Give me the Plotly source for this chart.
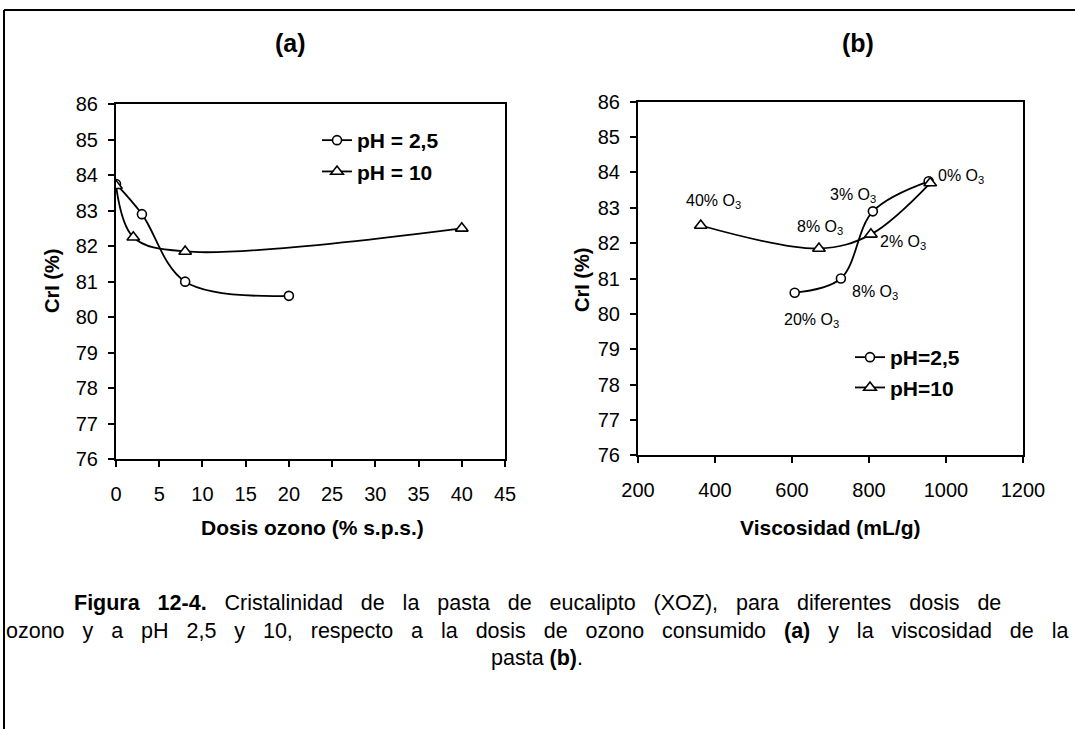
import plotly.graph_objects as go

# ---------------- data ----------------
dose_ph25 = [0, 3, 8, 20]
cri_ph25 = [83.75, 82.9, 81.0, 80.6]
dose_ph10 = [0, 2, 8, 40]
cri_ph10 = [83.7, 82.25, 81.85, 82.5]
visc_ph25 = [955, 810, 727, 607]
visc_ph10 = [959, 805, 670, 363]
labels_ph25 = ["0% O<sub>3</sub>", "3% O<sub>3</sub>", "8% O<sub>3</sub>", "20% O<sub>3</sub>"]
labels_ph10 = ["", "2% O<sub>3</sub>", "8% O<sub>3</sub>", "40% O<sub>3</sub>"]
names_a = ["<b>pH = 2,5</b>", "<b>pH = 10</b>"]
names_b = ["<b>pH=2,5</b>", "<b>pH=10</b>"]
x_ticks_a = list(range(0, 46, 5))
x_ticks_b = list(range(200, 1201, 200))
y_ticks = list(range(76, 87))
caption_lines = [
    "<b>Figura 12-4.</b> Cristalinidad de la pasta de eucalipto (XOZ), para diferentes dosis de",
    "ozono y a pH 2,5 y 10, respecto a la dosis de ozono consumido <b>(a)</b> y la viscosidad de la",
    "pasta <b>(b)</b>.",
]

W, H = 1075, 729
FONT = "Liberation Sans, Arial, sans-serif"


def px(x):
    return x / W


def py(y):
    return 1 - y / H


fig = go.Figure()

line_style = dict(color="black", width=1.8, shape="spline", smoothing=1)
circ = dict(symbol="circle", size=9, color="white", line=dict(color="black", width=1.6))
tri = dict(symbol="triangle-up", size=11, color="white", line=dict(color="black", width=1.6))

# panel (a)
fig.add_trace(go.Scatter(x=dose_ph25, y=cri_ph25, mode="lines+markers", name=names_a[0],
                         line=line_style, marker=circ, xaxis="x", yaxis="y",
                         legend="legend", legendgroup="a1"))
fig.add_trace(go.Scatter(x=dose_ph10, y=cri_ph10, mode="lines+markers", name=names_a[1],
                         line=line_style, marker=tri, xaxis="x", yaxis="y",
                         legend="legend", legendgroup="a2"))
# panel (b)
fig.add_trace(go.Scatter(x=visc_ph25, y=cri_ph25, mode="lines+markers", name=names_b[0],
                         line=line_style, marker=circ, xaxis="x2", yaxis="y2",
                         legend="legend2", legendgroup="b1"))
fig.add_trace(go.Scatter(x=visc_ph10, y=cri_ph10, mode="lines+markers", name=names_b[1],
                         line=line_style, marker=tri, xaxis="x2", yaxis="y2",
                         legend="legend2", legendgroup="b2"))

axis_common = dict(showgrid=False, zeroline=False, showline=True, linecolor="black",
                   linewidth=2, mirror=True, ticks="outside", ticklen=6, tickwidth=1.5,
                   tickcolor="black", automargin=False,
                   tickfont=dict(family=FONT, size=20, color="black"))

fig.update_layout(
    width=W, height=H, autosize=False,
    margin=dict(l=0, r=0, t=0, b=0, pad=0, autoexpand=False),
    paper_bgcolor="white", plot_bgcolor="white",
    font=dict(family=FONT, color="black"),
    xaxis=dict(domain=[px(116), px(505)], range=[0, 45], tickvals=x_ticks_a,
               anchor="y", ticklabelstandoff=10, **axis_common),
    yaxis=dict(domain=[py(459.3), py(104)], range=[76, 86], tickvals=y_ticks,
               anchor="x", ticklabelstandoff=6, **axis_common),
    xaxis2=dict(domain=[px(638), px(1023)], range=[200, 1200], tickvals=x_ticks_b,
                anchor="y2", ticklabelstandoff=10, **axis_common),
    yaxis2=dict(domain=[py(455.4), py(101.7)], range=[76, 86], tickvals=y_ticks,
                anchor="x2", ticklabelstandoff=6, **axis_common),
    legend=dict(x=px(317), y=py(120), xanchor="left", yanchor="top",
                bgcolor="rgba(0,0,0,0)", font=dict(family=FONT, size=21, color="black"),
                tracegroupgap=1, itemwidth=30),
    legend2=dict(x=px(850), y=py(337), xanchor="left", yanchor="top",
                 bgcolor="rgba(0,0,0,0)", font=dict(family=FONT, size=21, color="black"),
                 tracegroupgap=0, itemwidth=30),
    showlegend=True,
)

# outer frame (top and left edges visible)
frame = dict(type="line", xref="paper", yref="paper", line=dict(color="black", width=2), layer="below")
fig.add_shape(x0=px(4), y0=py(10), x1=1.0, y1=py(10), **frame)
fig.add_shape(x0=px(4), y0=py(10), x1=px(4), y1=0.0, **frame)

ann = []
# panel titles
ann.append(dict(text="<b>(a)</b>", x=px(290), y=py(43), font=dict(size=25)))
ann.append(dict(text="<b>(b)</b>", x=px(858), y=py(43), font=dict(size=25)))
# axis titles
ann.append(dict(text="<b>Dosis ozono (% s.p.s.)</b>", x=px(312), y=py(527), font=dict(size=21)))
ann.append(dict(text="<b>Viscosidad (mL/g)</b>", x=px(830), y=py(527), font=dict(size=21)))
ann.append(dict(text="<b>CrI (%)</b>", x=px(52), y=py(281), font=dict(size=20), textangle=-90))
ann.append(dict(text="<b>CrI (%)</b>", x=px(582), y=py(280), font=dict(size=20), textangle=-90))
# caption (first two lines are justified-looking: wider word spacing)
NB = "\u00a0"
cap_y = [603, 631, 658]
for i, (line, yy) in enumerate(zip(caption_lines, cap_y)):
    txt = line if i == 2 else line.replace(" ", NB + NB + " ").replace("<b>(a)</b>", "<b>(a)</b>")
    # keep html tags intact (no spaces inside tags in these lines)
    ann.append(dict(text=txt, x=px(537), y=py(yy), font=dict(size=21.5)))

for a in ann:
    a.update(xref="paper", yref="paper", showarrow=False, xanchor="center", yanchor="middle")
    a["font"] = dict(family=FONT, color="black", **a["font"])

# point labels in panel (b)
shift_ph25 = [(32, 5), (-20, 16), (34, -14), (17, -28)]
shift_ph10 = [(0, 0), (32, -8), (1, 21), (13, 24)]
for xs, ys, labs, shifts in ((visc_ph25, cri_ph25, labels_ph25, shift_ph25),
                             (visc_ph10, cri_ph10, labels_ph10, shift_ph10)):
    for xv, yv, lab, (dx, dy) in zip(xs, ys, labs, shifts):
        if not lab:
            continue
        ann.append(dict(text=lab, x=xv, y=yv, xref="x2", yref="y2", showarrow=False,
                        xshift=dx, yshift=dy, xanchor="center", yanchor="middle",
                        font=dict(family=FONT, size=16, color="black")))

fig.update_layout(annotations=ann)

fig.write_html("out.html")
